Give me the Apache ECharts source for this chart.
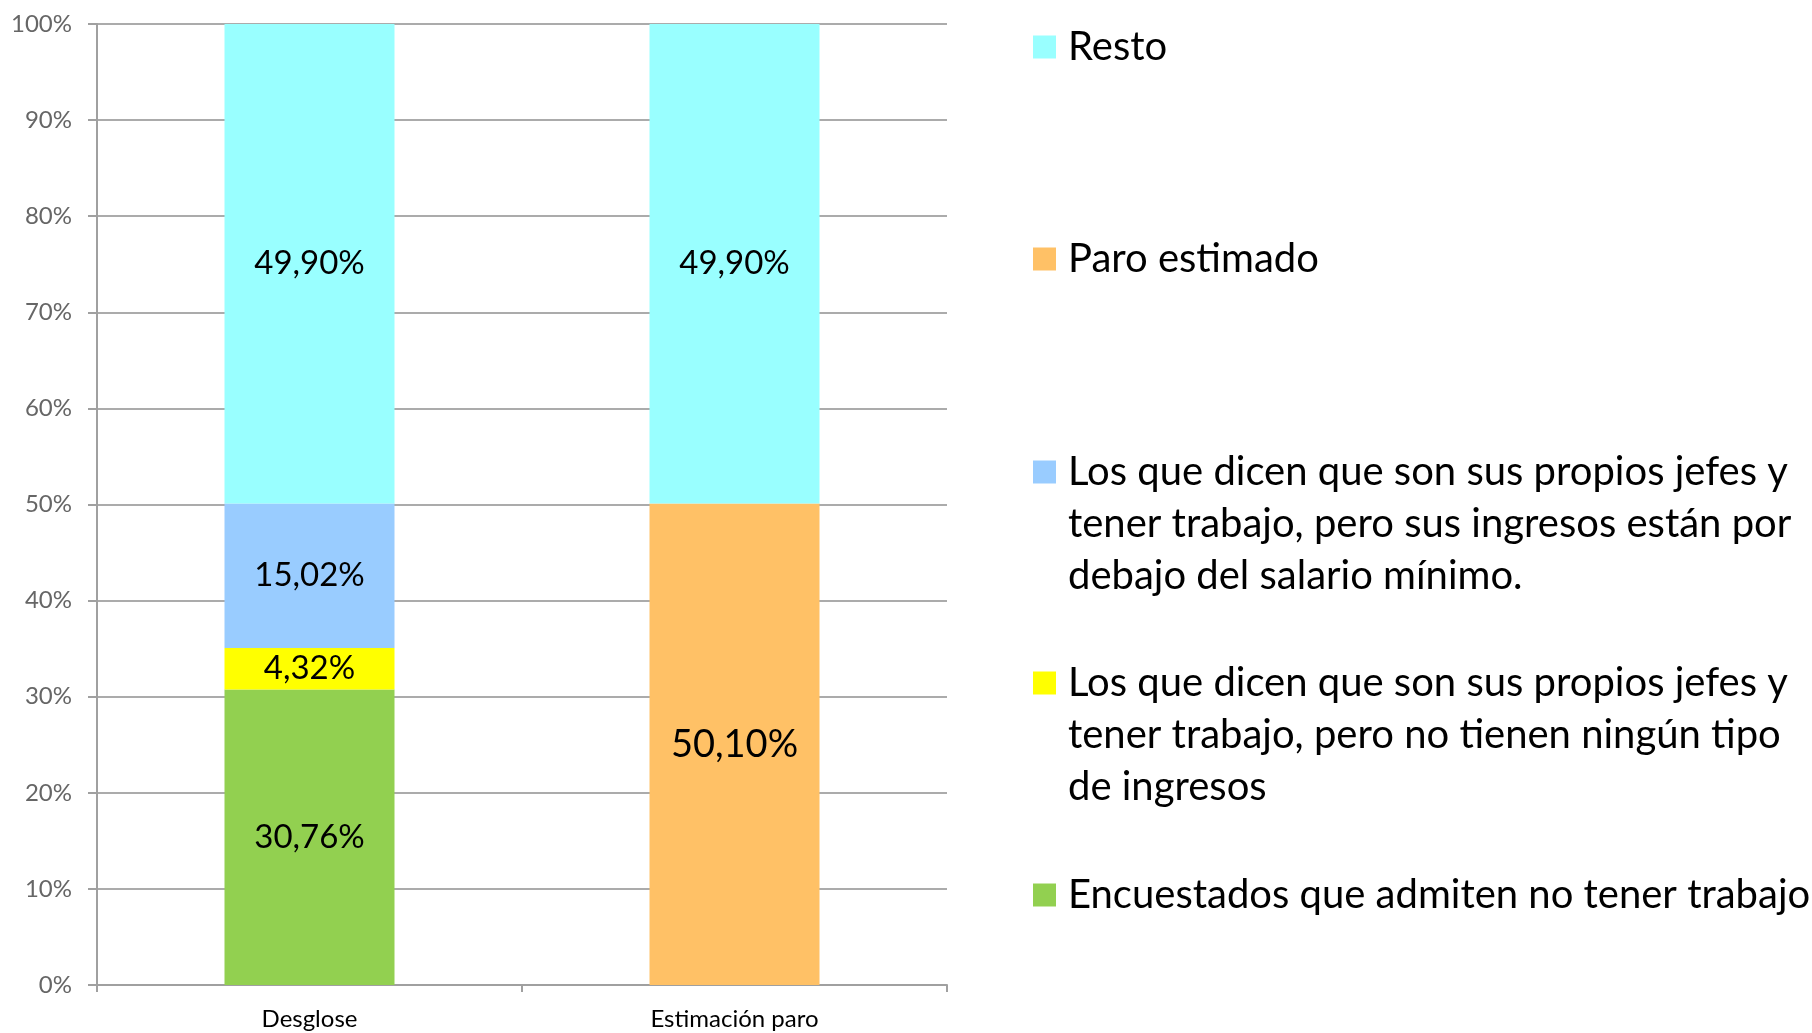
<!DOCTYPE html>
<html>
<head>
<meta charset="utf-8">
<script src="https://cdn.jsdelivr.net/npm/echarts@6/dist/echarts.min.js"></script>
<style>
  html, body { margin: 0; padding: 0; background: #fff; }
  #main { width: 1812px; height: 1033px; }
</style>
</head>
<body>
<div id="main"></div>
<script>
var categories = ['Desglose', 'Estimación paro'];
var yTicks = [0, 10, 20, 30, 40, 50, 60, 70, 80, 90, 100];

var encuestados = [30.76, null];
var sinIngresos = [4.32, null];
var bajoMinimo = [15.02, null];
var paroEstimado = [null, 50.10];
var resto = [49.90, 49.90];

var seriesNames = [
    'Encuestados que admiten no tener trabajo',
    'Los que dicen que son sus propios jefes y tener trabajo, pero no tienen ningún tipo de ingresos',
    'Los que dicen que son sus propios jefes y tener trabajo, pero sus ingresos están por debajo del salario mínimo.',
    'Paro estimado',
    'Resto'
];
var legendLines = [
    ['Encuestados que admiten no tener trabajo'],
    ['Los que dicen que son sus propios jefes y', 'tener trabajo, pero no tienen ningún tipo', 'de ingresos'],
    ['Los que dicen que son sus propios jefes y', 'tener trabajo, pero sus ingresos están por', 'debajo del salario mínimo.'],
    ['Paro estimado'],
    ['Resto']
];
var colors = ['#92D050', '#FFFF00', '#99CCFF', '#FFC166', '#99FFFF'];

var font = 'Lato, "Open Sans", sans-serif';
var lineH = 52;

function fmt(v) {
    return v.toFixed(2).replace('.', ',') + '%';
}

var allData = [encuestados, sinIngresos, bajoMinimo, paroEstimado, resto];
var series = seriesNames.map(function(name, i) {
    return {
        name: name,
        type: 'bar',
        stack: 'total',
        barWidth: '40%',
        data: allData[i],
        itemStyle: { color: colors[i] },
        label: {
            show: true,
            position: 'inside',
            color: '#000',
            fontFamily: font,
            fontSize: i === 3 ? 38 : 33,
            formatter: function(p) { return p.value == null ? '' : fmt(p.value); }
        }
    };
});

// one legend block per series; blank lines above keep the icon on the first text line
var legendCenters = [895, 683, 472, 259, 47];
var legends = seriesNames.map(function(name, i) {
    var lines = legendLines[i];
    var n = lines.length;
    var pad = [];
    for (var k = 1; k < n; k++) pad.push('');
    var text = pad.concat(lines).join('\n');
    return {
        data: [name],
        left: 1033,
        top: legendCenters[i] - (2 * n - 1) * lineH / 2,
        padding: 0,
        itemWidth: 23,
        itemHeight: 23,
        icon: 'rect',
        selectedMode: false,
        formatter: function() { return text; },
        textStyle: {
            fontFamily: font,
            fontSize: 40,
            color: '#000',
            lineHeight: lineH,
            padding: [0, 0, 0, 7]
        }
    };
});

var chart = echarts.init(document.getElementById('main'));
chart.setOption({
    animation: false,
    color: colors,
    grid: { left: 97, right: 865, top: 24, bottom: 48 },
    legend: legends,
    xAxis: {
        type: 'category',
        data: categories,
        axisLine: { lineStyle: { color: '#a0a0a0', width: 2 } },
        axisTick: { show: true, length: 7, lineStyle: { color: '#a0a0a0', width: 2 } },
        axisLabel: { color: '#000', fontFamily: font, fontSize: 24, margin: 22 }
    },
    yAxis: {
        type: 'value',
        min: yTicks[0],
        max: yTicks[yTicks.length - 1],
        interval: 10,
        axisLine: { show: true, lineStyle: { color: '#a0a0a0', width: 2 } },
        axisTick: { show: true, length: 9, lineStyle: { color: '#a0a0a0', width: 2 } },
        axisLabel: { color: '#666', fontFamily: font, fontSize: 24, margin: 25, formatter: '{value}%' },
        splitLine: { lineStyle: { color: '#ababab', width: 2 } }
    },
    series: series
});
</script>
</body>
</html>
